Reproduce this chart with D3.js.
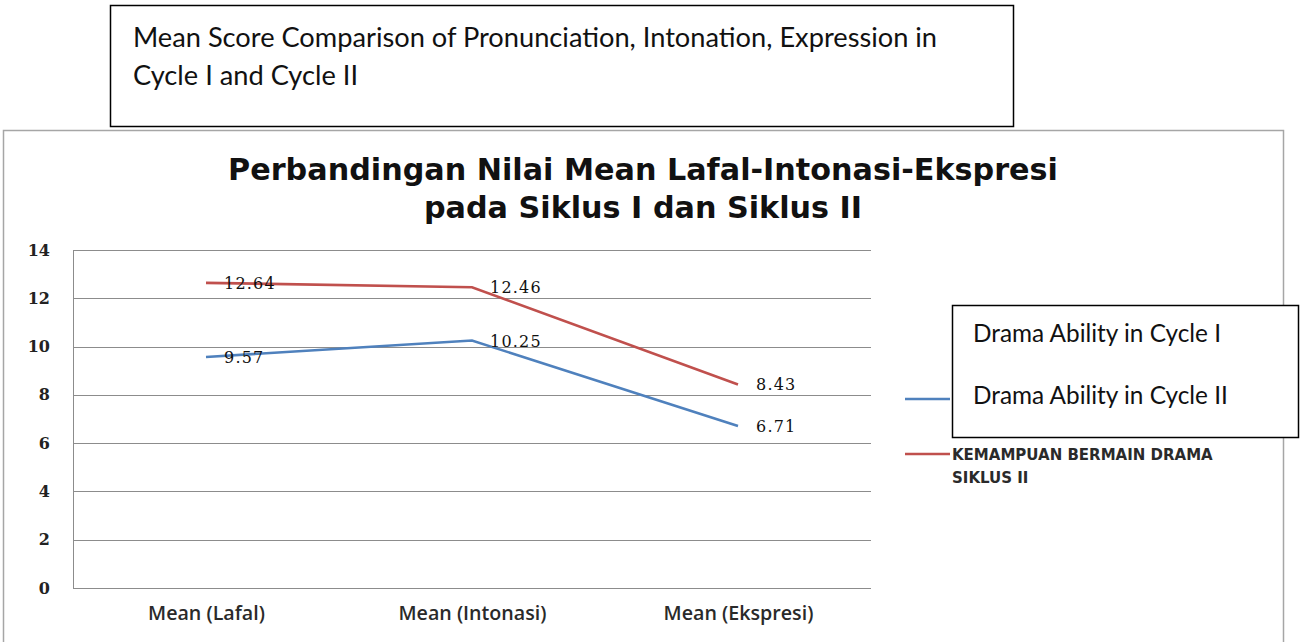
<!DOCTYPE html>
<html>
<head>
<meta charset="utf-8">
<script src="https://cdn.jsdelivr.net/npm/d3@7"></script>
<style>
  body { margin: 0; background: #fff; }
  svg { display: block; }
</style>
</head>
<body>
<div class="viz"></div>
<script>
// values
const categories = ["Mean (Lafal)", "Mean (Intonasi)", "Mean (Ekspresi)"];
const siklus1 = [9.57, 10.25, 6.71];
const siklus2 = [12.64, 12.46, 8.43];
const yTicks = [0, 2, 4, 6, 8, 10, 12, 14];
// first legend entry is covered by the pasted box, so only the second shows text
const seriesNames = [null, "KEMAMPUAN BERMAIN DRAMA SIKLUS II"];
const seriesColors = ["#4f81bd", "#c0504d"];
const titleLines = ["Perbandingan Nilai Mean Lafal-Intonasi-Ekspresi", "pada Siklus I dan Siklus II"];
const captionLines = ["Mean Score Comparison of Pronunciation, Intonation, Expression in", "Cycle I and Cycle II"];
const overlayLines = ["Drama Ability in Cycle I", "Drama Ability in Cycle II"];

var W = 1301, H = 642;
var plot = { left: 73, right: 871, top: 250, bottom: 588 };

var svg = d3.select(".viz").append("svg").attr("width", W).attr("height", H);

// scale a text node's font so it spans a given width, returns new size
function fit(sel, target) {
    var len = sel.node().getComputedTextLength();
    var fs = parseFloat(sel.attr("font-size"));
    var nfs = +(fs * target / len).toFixed(2);
    sel.attr("font-size", nfs);
    return nfs;
}

// chart frame (bottom edge runs off the page)
svg.append("rect")
    .attr("x", 3.5).attr("y", 130.5)
    .attr("width", 1280).attr("height", 540)
    .attr("fill", "#fff").attr("stroke", "#a6a6a6").attr("stroke-width", 1.5);

// title
var t1 = svg.append("text").attr("x", 643).attr("y", 180)
    .attr("text-anchor", "middle").attr("font-family", "DejaVu Sans")
    .attr("font-weight", "bold").attr("font-size", 26).attr("fill", "#111")
    .text(titleLines[0]);
var titleSize = fit(t1, 830);
svg.append("text").attr("x", 643).attr("y", 218)
    .attr("text-anchor", "middle").attr("font-family", "DejaVu Sans")
    .attr("font-weight", "bold").attr("font-size", titleSize).attr("fill", "#111")
    .text(titleLines[1]);

var x = d3.scalePoint().domain(categories).range([plot.left, plot.right]).padding(0.5);
var y = d3.scaleLinear().domain([0, 14]).range([plot.bottom, plot.top]);

// gridlines
svg.append("g").selectAll("line").data(yTicks).enter().append("line")
    .attr("x1", plot.left).attr("x2", plot.right)
    .attr("y1", d => Math.round(y(d)) + 0.5).attr("y2", d => Math.round(y(d)) + 0.5)
    .attr("stroke", "#8c8c8c").attr("stroke-width", 1);

svg.append("line")
    .attr("x1", plot.left + 0.5).attr("x2", plot.left + 0.5)
    .attr("y1", plot.top).attr("y2", plot.bottom + 1)
    .attr("stroke", "#8c8c8c");

// y axis labels
var yAxis = d3.axisLeft(y).tickValues(yTicks).tickSize(0).tickPadding(23);
var gy = svg.append("g").attr("transform", `translate(${plot.left},0)`).call(yAxis);
gy.select(".domain").remove();
gy.selectAll("text").attr("font-family", "DejaVu Serif").attr("font-weight", "bold")
    .attr("font-size", 16).attr("fill", "#222");

// x axis labels
var xAxis = d3.axisBottom(x).tickSize(0).tickPadding(18);
var gx = svg.append("g").attr("transform", `translate(0,${plot.bottom})`).call(xAxis);
gx.select(".domain").remove();
var xl = gx.selectAll("text").attr("font-family", "Open Sans").attr("font-weight", 600)
    .attr("font-size", 15).attr("fill", "#2a2a2a");
var xSize = fit(d3.select(xl.nodes()[0]), 117);
xl.attr("font-size", xSize);

// lines
var line = d3.line().x((d, i) => x(categories[i])).y(d => y(d));
[siklus1, siklus2].forEach((vals, k) => {
    svg.append("path").datum(vals)
        .attr("d", line).attr("fill", "none")
        .attr("stroke", seriesColors[k]).attr("stroke-width", 2.6);
    svg.append("g").selectAll("text").data(vals).enter().append("text")
        .attr("x", (d, i) => x(categories[i]) + 18)
        .attr("y", d => y(d) + 6)
        .attr("font-family", "DejaVu Serif").attr("font-size", 16)
        .attr("letter-spacing", 1.2).attr("fill", "#111")
        .text(d => d.toFixed(2));
});

// legend
var legend = svg.append("g");
var legendY = [399, 454];
seriesColors.forEach((c, k) => {
    legend.append("line").attr("x1", 905).attr("x2", 950)
        .attr("y1", legendY[k]).attr("y2", legendY[k])
        .attr("stroke", c).attr("stroke-width", 2.6);
    if (!seriesNames[k]) return;
    var words = seriesNames[k].split(" ");
    var txt = legend.append("text").attr("x", 952).attr("y", legendY[k] + 6)
        .attr("font-family", "DejaVu Sans").attr("font-weight", "bold")
        .attr("font-size", 13).attr("fill", "#2a2a2a")
        .text(words.slice(0, 3).join(" "));
    var fs = Math.min(fit(txt, 309), 15);
    txt.attr("font-size", fs);
    legend.append("text").attr("x", 952).attr("y", legendY[k] + 29)
        .attr("font-family", "DejaVu Sans").attr("font-weight", "bold")
        .attr("font-size", fs).attr("fill", "#2a2a2a")
        .text(words.slice(3).join(" "));
});

// pasted-on caption boxes
svg.append("rect").attr("x", 110.5).attr("y", 5.5).attr("width", 903).attr("height", 121)
    .attr("fill", "#fff").attr("stroke", "#000").attr("stroke-width", 1.5);
var capSize = null;
captionLines.forEach((s, i) => {
    var t = svg.append("text").attr("x", 133).attr("y", 47 + i * 38)
        .attr("font-family", "Lato").attr("font-size", 22).attr("fill", "#111").text(s);
    if (capSize == null) capSize = fit(t, 804);
    t.attr("font-size", capSize);
});

svg.append("rect").attr("x", 952.5).attr("y", 305.5).attr("width", 346).attr("height", 132)
    .attr("fill", "#fff").attr("stroke", "#000").attr("stroke-width", 1.5);
var ovSize = null;
overlayLines.forEach((s, i) => {
    var t = svg.append("text").attr("x", 973).attr("y", 342 + i * 62)
        .attr("font-family", "Lato").attr("font-size", 22).attr("fill", "#111").text(s);
    if (ovSize == null) ovSize = fit(t, 248);
    t.attr("font-size", ovSize);
});
</script>
</body>
</html>
